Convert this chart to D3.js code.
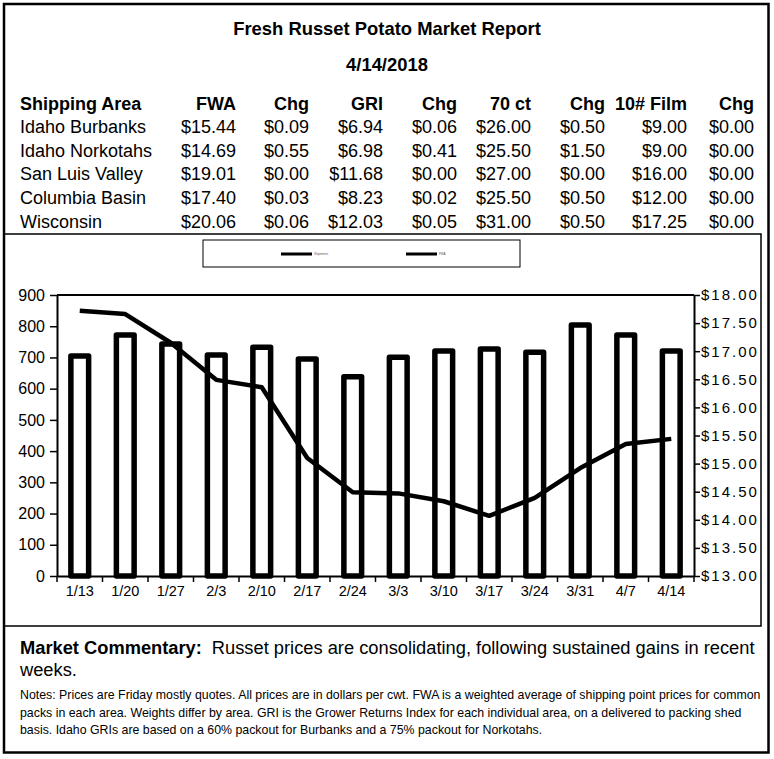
<!DOCTYPE html>
<html>
<head>
<meta charset="utf-8">
<script src="https://cdn.jsdelivr.net/npm/d3@7"></script>
<style>
  html, body { margin: 0; padding: 0; background: #fff; }
  svg { display: block; font-family: "Liberation Sans", Arial, sans-serif; }
</style>
</head>
<body>
<script>
// ---------- data ----------
const categories = ["1/13","1/20","1/27","2/3","2/10","2/17","2/24","3/3","3/10","3/17","3/24","3/31","4/7","4/14"];
const shipments = [705, 772, 743, 708, 733, 695, 638, 701, 721, 727, 717, 804, 772, 721];
const fwaPrice = [17.72, 17.66, 17.15, 16.49, 16.36, 15.10, 14.49, 14.47, 14.33, 14.07, 14.39, 14.92, 15.35, 15.44];
const leftTicks = [0,100,200,300,400,500,600,700,800,900];
const rightTicks = [13,13.5,14,14.5,15,15.5,16,16.5,17,17.5,18];
const legendLabels = ["Shipments", "FWA"];

const titleText = "Fresh Russet Potato Market Report";
const dateText = "4/14/2018";
const tableHeaders = ["Shipping Area","FWA","Chg","GRI","Chg","70 ct","Chg","10# Film","Chg"];
const areas = ["Idaho Burbanks","Idaho Norkotahs","San Luis Valley","Columbia Basin","Wisconsin"];
const fwaCol = ["$15.44","$14.69","$19.01","$17.40","$20.06"];
const fwaChg = ["$0.09","$0.55","$0.00","$0.03","$0.06"];
const griCol = ["$6.94","$6.98","$11.68","$8.23","$12.03"];
const griChg = ["$0.06","$0.41","$0.00","$0.02","$0.05"];
const ct70Col = ["$26.00","$25.50","$27.00","$25.50","$31.00"];
const ct70Chg = ["$0.50","$1.50","$0.00","$0.50","$0.50"];
const filmCol = ["$9.00","$9.00","$16.00","$12.00","$17.25"];
const filmChg = ["$0.00","$0.00","$0.00","$0.00","$0.00"];

const commentaryLabel = "Market Commentary:";
const commentaryText = "Russet prices are consolidating, following sustained gains in recent";
const commentaryText2 = "weeks.";
const notes = [
  "Notes: Prices are Friday mostly quotes. All prices are in dollars per cwt. FWA is a weighted average of shipping point prices for  common",
  "packs in each area. Weights differ by area. GRI is the Grower Returns Index for each individual area, on a delivered to packing shed",
  "basis. Idaho GRIs are based on a 60% packout for Burbanks and a 75% packout for Norkotahs."
];

// ---------- layout ----------
const W = 774, H = 759;
const svg = d3.select("body").append("svg").attr("width", W).attr("height", H);

// outer frame
svg.append("rect").attr("x", 4).attr("y", 4).attr("width", 764.5).attr("height", 748.5)
  .attr("fill", "none").attr("stroke", "#000").attr("stroke-width", 2.5);
// chart frame
svg.append("rect").attr("x", 4).attr("y", 234).attr("width", 757).attr("height", 392)
  .attr("fill", "none").attr("stroke", "#000").attr("stroke-width", 1.5);

// title
svg.append("text").attr("x", 387).attr("y", 35).attr("text-anchor", "middle")
  .attr("font-size", 18.4).attr("font-weight", "bold").text(titleText);
svg.append("text").attr("x", 387).attr("y", 71).attr("text-anchor", "middle")
  .attr("font-size", 18.4).attr("font-weight", "bold").text(dateText);

// table
const colRight = [null, 236, 309, 383, 457, 531, 605, 687, 754];
const cols = [areas, fwaCol, fwaChg, griCol, griChg, ct70Col, ct70Chg, filmCol, filmChg];
const headerY = 109.5, rowY0 = 133, rowStep = 23.7;
tableHeaders.forEach((h, i) => {
  svg.append("text")
    .attr("x", i === 0 ? 20 : colRight[i]).attr("y", headerY)
    .attr("text-anchor", i === 0 ? "start" : "end")
    .attr("font-size", 18).attr("font-weight", "bold").text(h);
});
cols.forEach((col, i) => {
  col.forEach((v, r) => {
    svg.append("text")
      .attr("x", i === 0 ? 20 : colRight[i]).attr("y", rowY0 + r * rowStep)
      .attr("text-anchor", i === 0 ? "start" : "end")
      .attr("font-size", 18).text(v);
  });
});

// legend
const lg = svg.append("g");
lg.append("rect").attr("x", 203).attr("y", 240).attr("width", 317).attr("height", 27)
  .attr("fill", "none").attr("stroke", "#000").attr("stroke-width", 1);
[[281, 312], [406, 437]].forEach((p, i) => {
  lg.append("line").attr("x1", p[0]).attr("x2", p[1]).attr("y1", 254).attr("y2", 254)
    .attr("stroke", "#000").attr("stroke-width", 3);
  lg.append("text").attr("x", p[1] + 2).attr("y", 255).attr("font-size", 3)
    .attr("fill", "#555").text(legendLabels[i]);
});

// chart
const x0 = 57, x1 = 694, yTop = 295, yBot = 576;
const x = d3.scaleBand().domain(categories).range([x0, x1]).paddingInner(0.61).paddingOuter(0.305);
const yL = d3.scaleLinear().domain([0, 900]).range([yBot, yTop]);
const yR = d3.scaleLinear().domain([13, 18]).range([yBot, yTop]);

// bars
svg.append("g").selectAll("rect").data(categories).join("rect")
  .attr("x", d => x(d))
  .attr("y", (d, i) => yL(shipments[i]))
  .attr("width", x.bandwidth())
  .attr("height", (d, i) => yL(0) - yL(shipments[i]))
  .attr("fill", "#fff").attr("stroke", "#000").attr("stroke-width", 5.5)
  .attr("stroke-linejoin", "round");

// frame top line
svg.append("line").attr("x1", x0).attr("x2", x1).attr("y1", yTop).attr("y2", yTop)
  .attr("stroke", "#000").attr("stroke-width", 2);

// left axis
const axL = svg.append("g").attr("transform", `translate(${x0},0)`)
  .call(d3.axisLeft(yL).tickValues(leftTicks).tickSize(7).tickSizeOuter(0).tickPadding(5));
// right axis
const axR = svg.append("g").attr("transform", `translate(${x1},0)`)
  .call(d3.axisRight(yR).tickValues(rightTicks).tickSize(6).tickSizeOuter(0).tickPadding(1)
    .tickFormat(d => "$" + d.toFixed(2)));
// bottom axis
const axB = svg.append("g").attr("transform", `translate(0,${yBot})`)
  .call(d3.axisBottom(x).tickSize(0).tickSizeOuter(0).tickPadding(10));
// bottom boundary ticks
const step = x.step();
const bounds = d3.range(categories.length + 1).map(i => x.range()[0] + i * step);
svg.append("g").selectAll("line").data(bounds).join("line")
  .attr("x1", d => d).attr("x2", d => d).attr("y1", yBot).attr("y2", yBot + 6)
  .attr("stroke", "#000").attr("stroke-width", 1.5);

[axL, axR, axB].forEach(a => {
  a.select(".domain").attr("stroke", "#000").attr("stroke-width", 2);
  a.selectAll(".tick line").attr("stroke", "#000").attr("stroke-width", 1.5);
  a.selectAll("text").attr("font-family", "Liberation Sans, Arial, sans-serif")
    .attr("font-size", 14.5).attr("fill", "#000");
});
axL.selectAll("text").attr("font-size", 16);
axR.selectAll("text").attr("font-size", 15).attr("letter-spacing", 2);

// line
const line = d3.line()
  .x((d, i) => x(categories[i]) + x.bandwidth() / 2)
  .y(d => yR(d));
svg.append("path").datum(fwaPrice).attr("d", line)
  .attr("fill", "none").attr("stroke", "#000").attr("stroke-width", 4.5)
  .attr("stroke-linejoin", "round");

// commentary
const ct = svg.append("text").attr("x", 20).attr("y", 654).attr("font-size", 18.3);
ct.append("tspan").attr("font-weight", "bold").text(commentaryLabel);
ct.append("tspan").attr("dx", 10).text(commentaryText);
svg.append("text").attr("x", 20).attr("y", 676).attr("font-size", 18.3).text(commentaryText2);

notes.forEach((n, i) => {
  svg.append("text").attr("x", 20).attr("y", 699 + i * 17.5).attr("font-size", 12.35).text(n);
});
</script>
</body>
</html>
